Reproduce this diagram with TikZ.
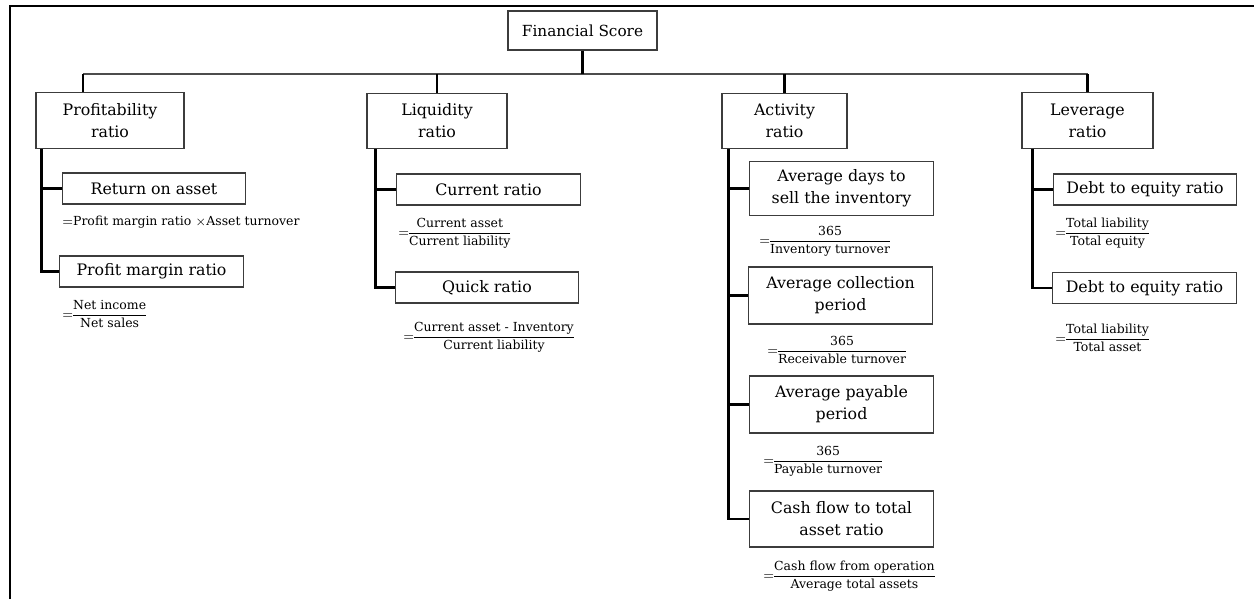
\documentclass[tikz,border=0pt]{standalone}
\usepackage{fontspec}
\setmainfont{DejaVu Serif}
\usepackage{amsmath}
\usetikzlibrary{positioning,calc}
\definecolor{boxline}{RGB}{60,60,60}
\newcommand{\ratiofrac}[2]{$\nulldelimiterspace=0pt{=}\dfrac{\text{#1}}{\text{#2}}$}

\begin{document}
\begin{tikzpicture}[x=0.02cm,y=-0.02cm,
  hd/.style={draw=boxline,line width=0.6pt,minimum width=2.98cm,
             minimum height=0.78cm,font=\fontsize{8.7}{10}\selectfont,
             align=center,inner sep=1pt},
  cat/.style={draw=boxline,line width=0.6pt,minimum height=1.11cm,
              font=\fontsize{9}{12.5}\selectfont,align=center,inner sep=1pt},
  leaf/.style={draw=boxline,line width=0.6pt,minimum width=3.67cm,
               minimum height=0.62cm,font=\fontsize{9}{12.5}\selectfont,
               align=center,inner sep=1pt},
  eq/.style={anchor=west,inner sep=0pt,font=\fontsize{7.1}{8.5}\selectfont},
  bus/.style={draw=gray!60!black,line width=0.6pt},
  spine/.style={draw=black,line width=1.2pt},
  frame/.style={draw=black,line width=1.2pt}
]
\useasboundingbox (0,0) rectangle (1254,599);

% outer frame (top and left only)
\draw[frame] (10,599) -- (10,6) -- (1254,6);

% root
\node[hd] (fin) at (582.5,30.5) {Financial Score};

% ratio groups
\node[cat,minimum width=2.96cm] (prof) at (110,120.5)  {Profitability\\ratio};
\node[cat,minimum width=2.80cm] (liq)  at (437,121)    {Liquidity\\ratio};
\node[cat,minimum width=2.50cm] (act)  at (784.5,121)  {Activity\\ratio};
\node[cat,minimum width=2.62cm] (lev)  at (1087.5,120.5) {Leverage\\ratio};

% bus from root to the groups
\coordinate (busL) at (83,74);
\coordinate (busR) at (lev.north |- busL);
\draw[bus] (busL) -- (busR);
\draw[spine] (fin.south) -- (fin.south |- busL);
\draw[spine] (busL) -- (busL |- prof.north);
\draw[spine] (liq.north |- busL) -- (liq.north);
\draw[spine] (act.north |- busL) -- (act.north);
\draw[spine] (busR) -- (lev.north);

% Profitability ratio
\node[leaf] (roa) at (154,188.5) {Return on asset};
\node[leaf] (pmr) at (151.5,271.5) {Profit margin ratio};
\node[eq] (roaeq) at (62,222) {${=}$Profit margin ratio $\times$Asset turnover};
\node[eq] (pmreq) at (62,314) {\ratiofrac{Net income}{Net sales}};
\draw[spine] ($(prof.south west)+(6,0)$) |- (roa.west);
\draw[spine] ($(prof.south west)+(6,0)$) |- (pmr.west);

% Liquidity ratio
\node[leaf] (cur) at (488.5,189.5) {Current ratio};
\node[leaf] (qck) at (487,287.5) {Quick ratio};
\node[eq] (cureq) at (398,233) {\ratiofrac{Current asset}{Current liability}};
\node[eq] (qckeq) at (403,337) {\ratiofrac{Current asset - Inventory}{Current liability}};
\draw[spine] ($(liq.south west)+(9,0)$) |- (cur.west);
\draw[spine] ($(liq.south west)+(9,0)$) |- (qck.west);

% Activity ratio
\node[leaf,minimum height=1.07cm] (days) at (841.5,188.5) {Average days to\\sell the inventory};
\node[leaf,minimum height=1.14cm] (coll) at (840.5,295.5) {Average collection\\period};
\node[leaf,minimum height=1.14cm] (pay)  at (841.5,404.5) {Average payable\\period};
\node[leaf,minimum height=1.12cm] (cash) at (841.5,519)   {Cash flow to total\\asset ratio};
\node[eq] (dayseq) at (759,241) {\ratiofrac{365}{Inventory turnover}};
\node[eq] (colleq) at (767,350) {\ratiofrac{365}{Receivable turnover}};
\node[eq] (payeq)  at (763,461) {\ratiofrac{365}{Payable turnover}};
\node[eq] (casheq) at (763,576) {\ratiofrac{Cash flow from operation}{Average total assets}};
\foreach \n in {days,coll,pay,cash}
  \draw[spine] ($(act.south west)+(7,0)$) |- (\n.west);

% Leverage ratio
\node[leaf] (dte) at (1145,189.5) {Debt to equity ratio};
\node[leaf] (dta) at (1144.5,288) {Debt to equity ratio};
\node[eq] (dteeq) at (1055,233) {\ratiofrac{Total liability}{Total equity}};
\node[eq] (dtaeq) at (1055,338) {\ratiofrac{Total liability}{Total asset}};
\draw[spine] ($(lev.south west)+(11,0)$) |- (dte.west);
\draw[spine] ($(lev.south west)+(11,0)$) |- (dta.west);

\end{tikzpicture}
\end{document}
